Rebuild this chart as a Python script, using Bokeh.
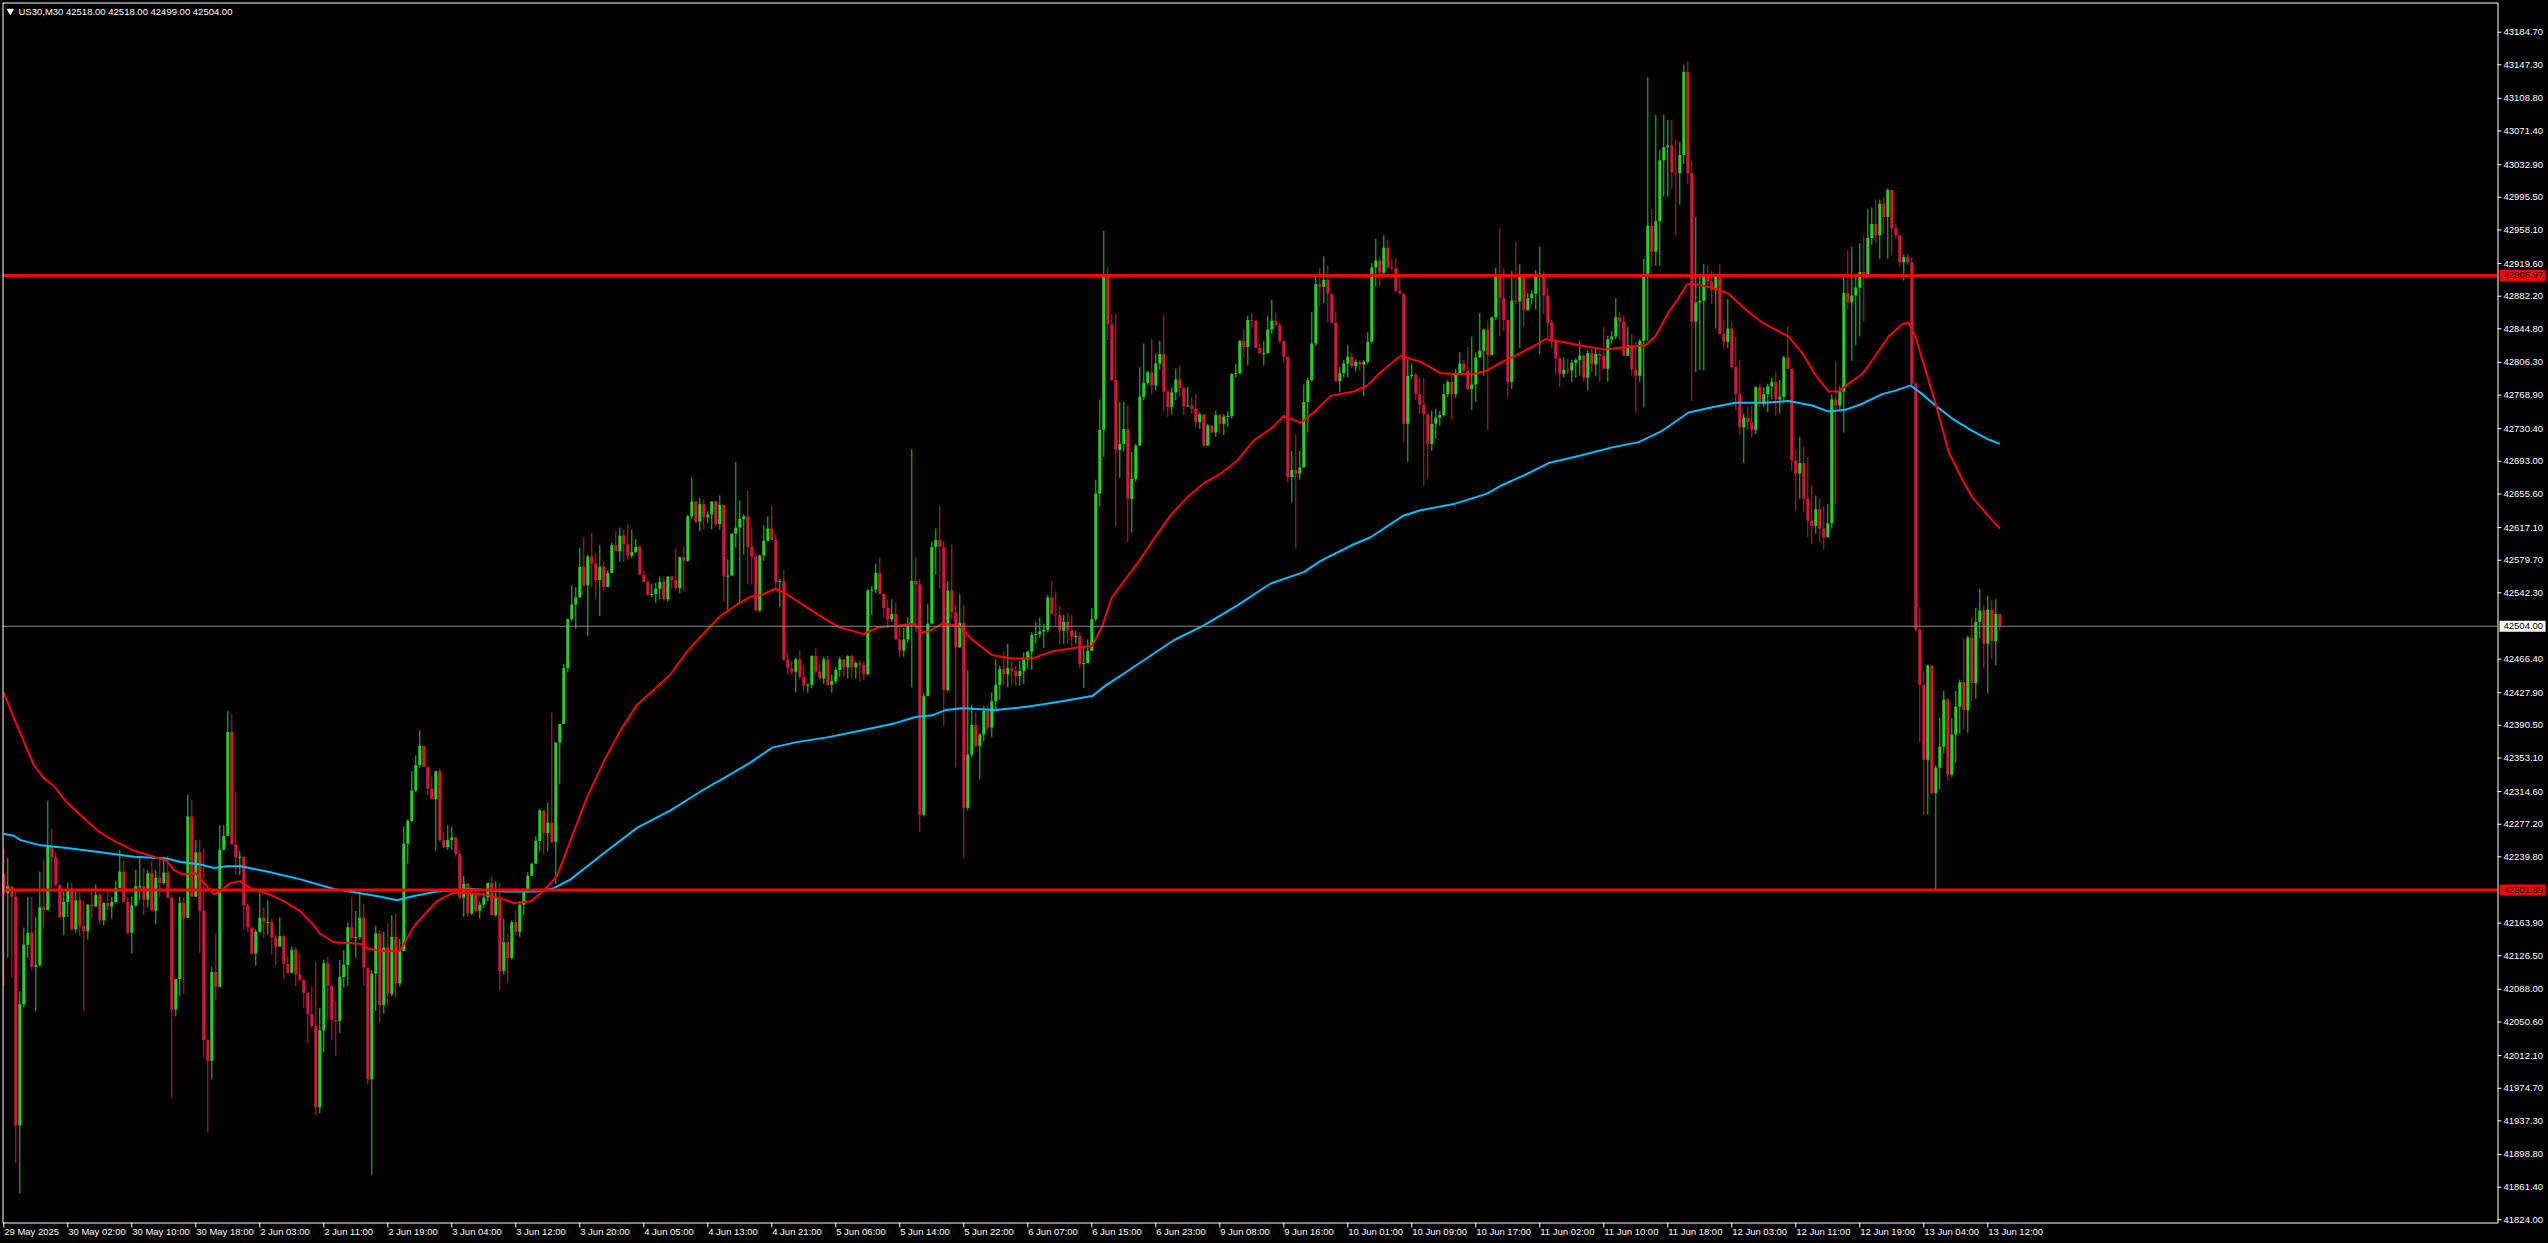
from bokeh.plotting import figure
from bokeh.models import Range1d, ColumnDataSource
from bokeh.embed import file_html
from bokeh.resources import INLINE
from bokeh.core.properties import value

# ---------------- data (US30, M30) ----------------
first_open = 42220.0
close = [
 42198,42206,42194,41932,42071,42139,42153,42114,42116,42182,
 42179,42251,42239,42208,42171,42188,42201,42157,42190,42161,
 42155,42185,42183,42196,42167,42187,42183,42188,42204,42223,
 42188,42153,42184,42206,42206,42191,42221,42178,42216,42210,
 42222,42193,42065,42100,42187,42170,42286,42194,42245,42178,
 42030,42006,42108,42091,42248,42264,42383,42254,42239,42240,
 42184,42159,42129,42154,42170,42165,42165,42147,42137,42149,
 42117,42107,42133,42105,42099,42084,42060,42046,41953,42041,
 42118,42092,42053,42052,42102,42116,42159,42147,42148,42170,
 42113,41985,42106,42152,42070,42136,42083,42148,42095,42132,
 42255,42281,42316,42345,42367,42343,42318,42306,42338,42259,
 42251,42259,42262,42243,42193,42209,42175,42198,42178,42185,
 42193,42210,42173,42193,42109,42142,42124,42165,42154,42185,
 42199,42218,42232,42258,42293,42267,42279,42257,42371,42392,
 42456,42512,42529,42537,42572,42551,42584,42576,42557,42572,
 42549,42565,42597,42590,42608,42598,42585,42589,42595,42563,
 42555,42540,42541,42547,42555,42535,42561,42557,42548,42583,
 42579,42630,42647,42624,42644,42629,42632,42647,42621,42643,
 42561,42562,42610,42617,42627,42630,42595,42584,42522,42585,
 42602,42616,42603,42555,42556,42466,42456,42452,42466,42446,
 42436,42437,42470,42452,42444,42466,42437,42441,42454,42466,
 42457,42470,42457,42462,42460,42449,42545,42546,42565,42541,
 42525,42512,42518,42489,42476,42489,42505,42556,42552,42288,
 42424,42507,42595,42603,42595,42431,42545,42520,42480,42508,
 42296,42357,42391,42367,42380,42407,42388,42418,42437,42455,
 42449,42456,42453,42447,42453,42466,42475,42494,42495,42498,
 42500,42537,42518,42517,42499,42509,42499,42492,42493,42461,
 42462,42476,42512,42656,42729,42905,42850,42786,42706,42713,
 42730,42650,42673,42711,42767,42783,42795,42780,42805,42816,
 42773,42755,42772,42787,42777,42756,42757,42753,42738,42747,
 42711,42734,42726,42746,42736,42744,42745,42793,42794,42831,
 42824,42855,42854,42823,42817,42817,42844,42854,42849,42831,
 42813,42675,42683,42679,42686,42761,42786,42828,42896,42893,
 42901,42885,42852,42785,42794,42805,42813,42802,42807,42804,
 42807,42830,42915,42923,42909,42938,42915,42914,42888,42885,
 42736,42791,42792,42770,42758,42747,42713,42736,42743,42746,
 42770,42784,42770,42794,42805,42797,42776,42781,42812,42820,
 42844,42815,42858,42906,42880,42855,42784,42877,42876,42906,
 42866,42880,42885,42905,42908,42883,42852,42830,42811,42793,
 42798,42797,42806,42809,42814,42789,42817,42804,42816,42814,
 42799,42833,42836,42858,42853,42814,42826,42798,42791,42831,
 42906,42963,42933,42968,43038,43053,43055,43024,43023,43044,
 43139,43023,42853,42875,42877,42905,42899,42889,42905,42839,
 42830,42845,42801,42770,42732,42743,42738,42729,42778,42759,
 42770,42779,42784,42764,42767,42812,42799,42694,42679,42691,
 42650,42625,42619,42638,42616,42606,42622,42764,42757,42773,
 42886,42875,42883,42892,42910,42906,42949,42965,42952,42988,
 42973,43004,42960,42952,42921,42927,42921,42782,42500,42437,
 42351,42459,42313,42342,42366,42420,42334,42380,42412,42440,
 42408,42491,42439,42509,42522,42484,42523,42487,42518,42504,
]
high = [
 42249,42239,42206,42202,42086,42159,42194,42194,42171,42223,
 42237,42304,42272,42245,42200,42200,42210,42210,42202,42200,
 42190,42186,42200,42208,42198,42188,42200,42194,42212,42248,
 42237,42194,42194,42225,42239,42227,42225,42235,42225,42239,
 42240,42241,42196,42100,42194,42194,42311,42305,42259,42260,
 42249,42032,42114,42152,42276,42276,42407,42404,42315,42247,
 42210,42186,42159,42157,42199,42182,42190,42169,42151,42171,
 42151,42126,42137,42137,42128,42100,42085,42092,42120,42067,
 42122,42125,42094,42075,42122,42133,42165,42194,42178,42198,
 42186,42112,42110,42161,42156,42154,42164,42173,42175,42146,
 42275,42283,42338,42356,42385,42367,42340,42332,42338,42341,
 42269,42276,42274,42263,42248,42218,42210,42201,42201,42189,
 42199,42210,42217,42212,42210,42169,42152,42167,42178,42189,
 42201,42222,42233,42263,42295,42293,42302,42405,42371,42392,
 42461,42513,42551,42549,42594,42606,42586,42611,42588,42597,
 42578,42568,42600,42613,42617,42615,42621,42615,42604,42597,
 42568,42558,42553,42554,42561,42561,42561,42562,42593,42584,
 42595,42632,42674,42647,42651,42649,42636,42647,42648,42654,
 42643,42581,42611,42692,42648,42632,42659,42618,42588,42586,
 42620,42630,42642,42610,42558,42569,42474,42464,42468,42476,
 42459,42439,42471,42479,42461,42469,42470,42449,42457,42469,
 42466,42471,42471,42464,42465,42464,42547,42550,42576,42583,
 42542,42535,42535,42531,42504,42502,42514,42707,42583,42558,
 42428,42530,42601,42616,42642,42602,42556,42598,42529,42541,
 42529,42454,42414,42405,42382,42413,42413,42428,42466,42459,
 42475,42484,42464,42459,42464,42474,42476,42497,42509,42514,
 42507,42540,42556,42544,42527,42517,42519,42517,42499,42497,
 42481,42489,42525,42672,42764,42957,42916,42862,42862,42761,
 42761,42757,42704,42713,42801,42828,42797,42833,42817,42831,
 42860,42775,42778,42799,42803,42778,42778,42767,42770,42749,
 42746,42736,42734,42751,42748,42747,42750,42794,42805,42832,
 42845,42860,42863,42855,42828,42831,42860,42878,42863,42852,
 42832,42812,42705,42724,42705,42781,42789,42864,42904,42915,
 42928,42917,42885,42864,42801,42809,42826,42817,42810,42809,
 42809,42841,42920,42948,42927,42952,42947,42925,42925,42904,
 42885,42810,42805,42795,42788,42789,42746,42751,42753,42751,
 42782,42786,42791,42799,42818,42809,42824,42836,42818,42863,
 42845,42854,42859,42915,42960,42914,42848,42911,42944,42919,
 42908,42886,42889,42912,42939,42911,42892,42855,42833,42814,
 42812,42811,42809,42811,42831,42817,42820,42823,42822,42820,
 42847,42837,42842,42880,42864,42860,42847,42839,42830,42833,
 42925,43133,42982,43090,43050,43090,43084,43084,43062,43059,
 43147,43151,43037,42973,42908,42919,42917,42911,42908,42919,
 42855,42879,42853,42836,42809,42748,42755,42757,42779,42782,
 42778,42782,42789,42795,42786,42814,42848,42799,42707,42721,
 42710,42698,42666,42654,42650,42642,42644,42770,42808,42779,
 42906,42935,42939,42908,42943,42952,42982,42984,42993,42993,
 42996,43006,43004,42965,42946,42930,42931,42927,42784,42526,
 42452,42460,42459,42345,42399,42430,42422,42399,42430,42443,
 42490,42493,42515,42525,42547,42528,42539,42534,42535,42518,
]
low = [
 42092,42124,42102,41889,41854,42067,42124,42110,42063,42114,
 42159,42180,42204,42206,42169,42150,42171,42155,42153,42149,
 42063,42145,42169,42182,42163,42161,42178,42169,42186,42204,
 42188,42151,42129,42182,42190,42173,42182,42178,42163,42194,
 42208,42193,41963,42057,42080,42083,42170,42194,42198,42130,
 42010,41924,41985,42076,42090,42247,42264,42255,42219,42219,
 42156,42153,42128,42115,42153,42147,42151,42128,42116,42137,
 42100,42106,42106,42092,42098,42067,42026,42043,41944,41946,
 42016,42053,42030,42012,42038,42090,42092,42145,42124,42145,
 42092,41979,41875,42063,42050,42060,42070,42080,42078,42091,
 42132,42232,42279,42314,42342,42343,42310,42306,42247,42257,
 42250,42248,42248,42240,42191,42171,42171,42173,42176,42169,
 42181,42189,42173,42171,42087,42105,42095,42122,42150,42148,
 42173,42199,42218,42232,42246,42242,42246,42255,42209,42323,
 42392,42451,42510,42501,42537,42549,42493,42549,42535,42516,
 42545,42549,42566,42590,42578,42578,42580,42582,42588,42563,
 42555,42539,42537,42531,42535,42533,42532,42547,42546,42542,
 42545,42578,42627,42622,42613,42615,42622,42615,42618,42615,
 42532,42520,42562,42594,42532,42586,42552,42552,42522,42520,
 42579,42601,42603,42545,42526,42464,42449,42448,42428,42443,
 42429,42428,42433,42449,42443,42438,42436,42428,42438,42446,
 42446,42444,42444,42444,42441,42443,42448,42517,42542,42541,
 42514,42502,42509,42488,42469,42469,42485,42434,42497,42268,
 42286,42424,42507,42563,42547,42390,42429,42512,42342,42479,
 42238,42293,42354,42365,42329,42372,42385,42377,42408,42420,
 42437,42434,42437,42436,42436,42438,42456,42454,42484,42491,
 42479,42497,42517,42504,42484,42484,42484,42481,42484,42456,
 42433,42463,42478,42510,42641,42698,42832,42785,42618,42674,
 42704,42600,42611,42669,42711,42763,42780,42770,42774,42798,
 42750,42744,42747,42763,42767,42746,42755,42747,42732,42730,
 42710,42711,42725,42721,42725,42723,42732,42742,42789,42793,
 42812,42803,42845,42822,42816,42803,42816,42839,42847,42828,
 42806,42669,42646,42593,42672,42686,42726,42784,42825,42870,
 42874,42852,42851,42784,42772,42789,42789,42800,42796,42797,
 42768,42805,42828,42893,42893,42903,42914,42912,42887,42885,
 42715,42692,42787,42763,42747,42665,42673,42705,42719,42734,
 42744,42767,42741,42766,42793,42794,42774,42752,42761,42812,
 42791,42729,42814,42855,42836,42842,42767,42776,42873,42823,
 42847,42867,42873,42867,42816,42862,42833,42823,42792,42778,
 42789,42793,42784,42789,42791,42784,42774,42795,42791,42784,
 42798,42784,42828,42833,42831,42814,42814,42791,42749,42784,
 42755,42831,42916,42917,42917,42996,42996,43005,42952,42987,
 43034,43011,42762,42795,42798,42797,42889,42873,42845,42839,
 42822,42823,42799,42751,42723,42691,42729,42720,42724,42755,
 42755,42749,42764,42745,42748,42760,42798,42682,42636,42650,
 42635,42606,42598,42610,42600,42592,42606,42616,42644,42753,
 42726,42867,42808,42826,42836,42853,42905,42941,42943,42925,
 42954,42925,42929,42948,42916,42900,42918,42780,42498,42371,
 42288,42288,42311,42202,42317,42358,42327,42331,42347,42380,
 42386,42382,42418,42421,42490,42456,42427,42466,42459,42499,
]

# moving averages sampled along the chart (bar index, value)
ma_red_x = [0,2.5,7.5,10,12.5,15.8,20,24,28,32.5,36.7,40.8,42.5,44.6,48,50,52.5,54,56.7,59,61.7,65.8,70,74,77.5,79,82.5,85.8,89.6,90.8,94,99,102.5,105.8,108.3,112.5,116.7,120.8,125,127.5,131.7,135,138.3,141.7,145.8,150,154.2,158.3,162.5,166.7,170.8,175,179.2,183.3,186.7,189.6,192.9,195.4,199.6,203.7,208.7,215,218.7,223.7,227.5,229.5,231.2,234.6,238.7,242,247,252,257,262,268.7,272,274.6,277,280.4,283.4,287.5,291.7,295.9,300,304.2,308.4,312.5,316.7,320,324.2,327.5,331.7,337.5,340.9,344.2,349.2,354.2,359.2,362.5,367.5,370.8,374.2,
            377.9,382.9,385.4,389.6,393.7,397.9,400.4,406.2,410.4,412.9,416.2,418.7,420.8,422.9,427.1,431.2,435.4,439.6,443.7,446.2,449.6,452.9,456.2,458.7,461.2,464.6,467.9,471.2,474.6,476.2,477.9,480.4,482.9,486.2,489.6,492.1,496.2,499]
ma_red_y = [42428,42399,42345,42330,42321,42302,42284,42268,42257,42247,42241,42235,42225,42220,42221,42210,42197,42200,42210,42212,42204,42198,42189,42178,42161,42152,42142,42141,42140,42135,42132,42132,42160,42177,42189,42199,42198,42196,42191,42187,42189,42201,42218,42259,42308,42349,42385,42414,42431,42449,42475,42496,42516,42529,42538,42540,42547,42542,42529,42517,42503,42495,42503,42505,42507,42497,42498,42507,42505,42489,42471,42467,42467,42475,42480,42481,42504,42537,42558,42576,42604,42631,42652,42668,42679,42694,42717,42730,42745,42737,42749,42768,42773,42780,42795,42814,42807,42794,42793,42793,42797,42806,
            42814,42826,42833,42830,42826,42823,42821,42824,42826,42836,42864,42880,42896,42896,42892,42885,42867,42852,42842,42836,42817,42792,42773,42773,42782,42793,42814,42836,42850,42852,42836,42798,42760,42704,42672,42652,42630,42616]
ma_blue_x = [0,2.5,4.2,9.2,15.8,24.2,32.5,40.8,44.2,49.2,52.5,55.8,59.2,65.8,74.2,82.5,89.2,94.2,98.3,102.5,108.3,116.7,125,133.3,137.5,141.7,150,158.3,166.7,175,180,186.7,192.1,197.9,206.2,214.6,222.9,227.9,232.1,235.4,239.6,247.9,256.2,264.6,272.1,275.4,280.4,292.5,300,308.4,316.7,325,329.2,337.5,341.7,350,354.2,362.5,370.8,374.2,
             379.6,386.2,393.7,402.1,408.7,414.6,421.2,427.1,432.9,439.6,446.2,452.1,456.2,460.4,464.6,469.6,472.9,476.7,479.6,482.9,487.1,492.1,496.2,499]
ma_blue_y = [42266,42264,42259,42253,42250,42245,42240,42238,42234,42231,42227,42229,42229,42223,42214,42203,42198,42194,42190,42195,42200,42203,42200,42200,42204,42214,42244,42273,42293,42317,42330,42348,42365,42371,42377,42385,42393,42400,42402,42408,42410,42408,42412,42418,42424,42436,42451,42488,42505,42528,42553,42566,42579,42598,42606,42631,42637,42644,42656,42665,
             42676,42691,42699,42709,42715,42728,42749,42755,42760,42760,42762,42757,42750,42752,42759,42770,42774,42780,42770,42757,42742,42728,42718,42713]

price_ticks = [43184.70,43147.30,43108.80,43071.40,43032.90,42995.50,42958.10,42919.60,42882.20,42844.80,
               42806.30,42768.90,42730.40,42693.00,42655.60,42617.10,42579.70,42542.30,42466.40,42427.90,
               42390.50,42353.10,42314.60,42277.20,42239.80,42163.90,42126.50,42088.00,42050.60,42012.10,
               41974.70,41937.30,41898.80,41861.40,41824.00]
time_labels = ["29 May 2025","30 May 02:00","30 May 10:00","30 May 18:00","2 Jun 03:00","2 Jun 11:00",
               "2 Jun 19:00","3 Jun 04:00","3 Jun 12:00","3 Jun 20:00","4 Jun 05:00","4 Jun 13:00",
               "4 Jun 21:00","5 Jun 06:00","5 Jun 14:00","5 Jun 22:00","6 Jun 07:00","6 Jun 15:00",
               "6 Jun 23:00","9 Jun 08:00","9 Jun 16:00","10 Jun 01:00","10 Jun 09:00","10 Jun 17:00",
               "11 Jun 02:00","11 Jun 10:00","11 Jun 18:00","12 Jun 03:00","12 Jun 11:00","12 Jun 19:00",
               "13 Jun 04:00","13 Jun 12:00"]
time_label_bars = [16 * k for k in range(len(time_labels))]
resistance = 42905.97
support = 42201.89
bid = 42504.00
title_text = "US30,M30  42518.00 42518.00 42499.00 42504.00"

# ---------------- layout helpers (pixel <-> data) ----------------
W, H = 2548, 1243
FL, FR, FT, FB = 2, 2497, 2, 1222          # chart window edges in px
BAR_PX, BAR0_PX = 4.0, 3.3
def xd(px): return (px - BAR0_PX) / BAR_PX
def yd(py): return 43221.0 - 1.14576 * py

FONT = value("Liberation Sans")
FSIZE = value("9.5px")
GREEN = "#1ED81E"
RED = "#DC143C"

p = figure(width=W, height=H, x_range=Range1d(xd(0), xd(W)), y_range=Range1d(yd(H), yd(0)),
           output_backend="svg", toolbar_location=None,
           x_axis_location=None, y_axis_location=None,
           background_fill_color="black", border_fill_color="black",
           min_border_left=0, min_border_top=0, min_border_right=0, min_border_bottom=0)
p.outline_line_color = None
p.xgrid.visible = False
p.ygrid.visible = False

# ---------------- candles ----------------
n = len(close)
idx = list(range(n))
opens = [first_open] + close[:-1]
hi = [max(high[i], opens[i], close[i]) for i in idx]
lo = [min(low[i], opens[i], close[i]) for i in idx]
col = [GREEN if close[i] >= opens[i] else RED for i in idx]
top = [max(opens[i], close[i]) for i in idx]
bot = [min(opens[i], close[i]) for i in idx]
bot = [min(bot[i], top[i] - 1.2) for i in idx]
src = ColumnDataSource(dict(x=idx, hi=hi, lo=lo, top=top, bot=bot, col=col))
p.segment(x0="x", y0="lo", x1="x", y1="hi", color="col", line_width=1, source=src)
p.vbar(x="x", top="top", bottom="bot", width=0.75, fill_color="col", line_color=None, source=src)

# ---------------- moving averages ----------------
p.line(ma_blue_x, ma_blue_y, color="#00BFFF", line_width=2)
p.line(ma_red_x, ma_red_y, color="#FF0000", line_width=2)

# ---------------- horizontal levels (inside the chart window) ----------------
xl, xr = xd(FL), xd(FR)
p.segment(x0=[xl], y0=[bid], x1=[xr], y1=[bid], line_color="#8C8C8C", line_width=1)
p.segment(x0=[xl, xl], y0=[resistance, support], x1=[xr, xr], y1=[resistance, support],
          line_color="#FF0000", line_width=3)

# ---------------- chart window border ----------------
bx = [xd(FL + 0.5), xd(FR + 0.5)]
by = [yd(FT + 0.5), yd(FB + 0.5)]
p.multi_line(xs=[[bx[0], bx[1]], [bx[0], bx[1]], [bx[0], bx[0]], [bx[1], bx[1]]],
             ys=[[by[0], by[0]], [by[1], by[1]], [by[0], by[1]], [by[0], by[1]]],
             line_color="white", line_width=1)

# ---------------- price scale (right) ----------------
nt = len(price_ticks)
p.segment(x0=[xd(FR)] * nt, y0=price_ticks, x1=[xd(FR + 4)] * nt, y1=price_ticks, line_color="white", line_width=1)
p.text(x=[xd(2503)] * nt, y=price_ticks, text=[f"{t:.2f}" for t in price_ticks], text_color="white",
       text_font=FONT, text_font_size=FSIZE, text_align="left", text_baseline="middle")

# ---------------- time scale (bottom) ----------------
ntl = len(time_labels)
p.segment(x0=time_label_bars, y0=[yd(FB)] * ntl, x1=time_label_bars, y1=[yd(FB + 5)] * ntl,
          line_color="white", line_width=1)
p.text(x=[b + 0.1 for b in time_label_bars], y=[yd(1231)] * ntl, text=time_labels, text_color="white",
       text_font=FONT, text_font_size=FSIZE, text_align="left", text_baseline="middle")

# ---------------- price tags on the scale ----------------
tag_lvls = [resistance, support, bid]
tag_bg = ["#FF0000", "#FF0000", "white"]
p.rect(x=[xd(2522)] * 3, y=tag_lvls, width=46, height=11, width_units="screen", height_units="screen",
       fill_color=tag_bg, line_color=None)
p.text(x=[xd(2503)] * 3, y=tag_lvls, text=[f"{v:.2f}" for v in tag_lvls], text_color="black",
       text_font=FONT, text_font_size=FSIZE, text_align="left", text_baseline="middle")

# ---------------- header ----------------
p.scatter(x=[xd(9.8)], y=[yd(10.5)], marker="inverted_triangle", size=6, color="white")
p.text(x=[xd(18)], y=[yd(10.5)], text=[title_text], text_color="white",
       text_font=FONT, text_font_size=FSIZE, text_align="left", text_baseline="middle")

html = file_html(p, INLINE)
html = html.replace("<head>", "<head><style>html,body{margin:0;padding:0;background:#000;overflow:hidden;}</style>", 1)
open("out.html", "w").write(html)
